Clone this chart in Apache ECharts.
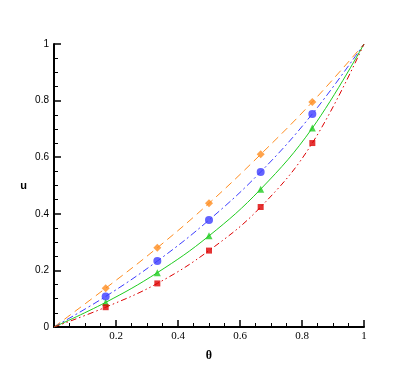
<!DOCTYPE html>
<html>
<head>
<meta charset="utf-8">
<script src="https://cdn.jsdelivr.net/npm/echarts@6/dist/echarts.min.js"></script>
<style>
  html, body { margin: 0; padding: 0; background: #fff; }
  #main { width: 415px; height: 369px; }
</style>
</head>
<body>
<div id="main"></div>
<script>
// theta positions of the markers
var theta = [1/6, 2/6, 3/6, 4/6, 5/6];

// u values, one array per curve
var orangeU = [0.137, 0.280, 0.437, 0.610, 0.795];
var blueU   = [0.108, 0.233, 0.378, 0.548, 0.753];
var greenU  = [0.087, 0.192, 0.322, 0.487, 0.703];
var redU    = [0.070, 0.154, 0.270, 0.424, 0.650];

var xTicks = [0, 0.2, 0.4, 0.6, 0.8, 1];

function pts(vals) {
    return theta.map(function (t, i) { return [t, vals[i]]; });
}
// curve goes through (0,0), the markers, then (1,1)
function curve(vals) {
    return [[0, 0]].concat(pts(vals), [[1, 1]]);
}

var myChart = echarts.init(document.getElementById('main'));

function lineSeries(vals, color, dash) {
    return {
        type: 'line',
        data: curve(vals),
        smooth: 0.4,
        showSymbol: false,
        silent: true,
        lineStyle: { color: color, width: 1, type: dash },
        z: 2
    };
}
function markSeries(vals, color, symbol, size) {
    return {
        type: 'scatter',
        data: pts(vals),
        symbol: symbol,
        symbolSize: size,
        itemStyle: { color: color },
        z: 3
    };
}

var option = {
    backgroundColor: '#fff',
    animation: false,
    grid: { left: 54, right: 51, top: 44, bottom: 42 },
    xAxis: {
        type: 'value',
        min: 0, max: 1, interval: 0.2,
        name: 'θ',
        nameLocation: 'middle',
        nameGap: 23,
        nameTextStyle: { fontFamily: 'Liberation Serif', fontWeight: 'bold', fontSize: 12, color: '#000' },
        axisLine: { show: true, onZero: false, lineStyle: { color: '#000', width: 2 } },
        axisTick: { show: true, inside: true, length: 7, lineStyle: { color: '#000', width: 1.5 } },
        minorTick: { show: true, splitNumber: 4, length: 4, lineStyle: { color: '#000', width: 1 } },
        splitLine: { show: false },
        axisLabel: {
            margin: 4,
            fontFamily: 'Liberation Serif', fontSize: 11, color: '#000',
            formatter: function (v) { return xTicks.indexOf(v) > 0 ? String(v) : ''; }
        }
    },
    yAxis: {
        type: 'value',
        min: 0, max: 1, interval: 0.2,
        name: 'u',
        nameLocation: 'middle',
        nameGap: 27,
        nameRotate: 0,
        nameTextStyle: { fontFamily: 'Liberation Sans', fontWeight: 'bold', fontSize: 11, color: '#000' },
        axisLine: { show: true, onZero: false, lineStyle: { color: '#000', width: 2 } },
        axisTick: { show: true, inside: true, length: 7, lineStyle: { color: '#000', width: 1.5 } },
        minorTick: { show: true, splitNumber: 4, length: 4, lineStyle: { color: '#000', width: 1 } },
        splitLine: { show: false },
        axisLabel: { margin: 5, fontFamily: 'Liberation Sans', fontSize: 10, color: '#000' }
    },
    series: [
        lineSeries(orangeU, '#ff8c1e', [8, 5]),
        lineSeries(blueU, '#3c3cff', [7, 3, 2, 3]),
        lineSeries(greenU, '#1fcc1f', 'solid'),
        lineSeries(redU, '#dd0000', [6, 3, 1.5, 3, 1.5, 3]),
        markSeries(orangeU, '#ff8c1e', 'diamond', 8),
        markSeries(blueU, '#3c3cff', 'circle', 8),
        markSeries(greenU, '#1fcc1f', 'triangle', 7),
        markSeries(redU, '#dd0000', 'rect', 6)
    ]
};

myChart.setOption(option);
</script>
</body>
</html>
